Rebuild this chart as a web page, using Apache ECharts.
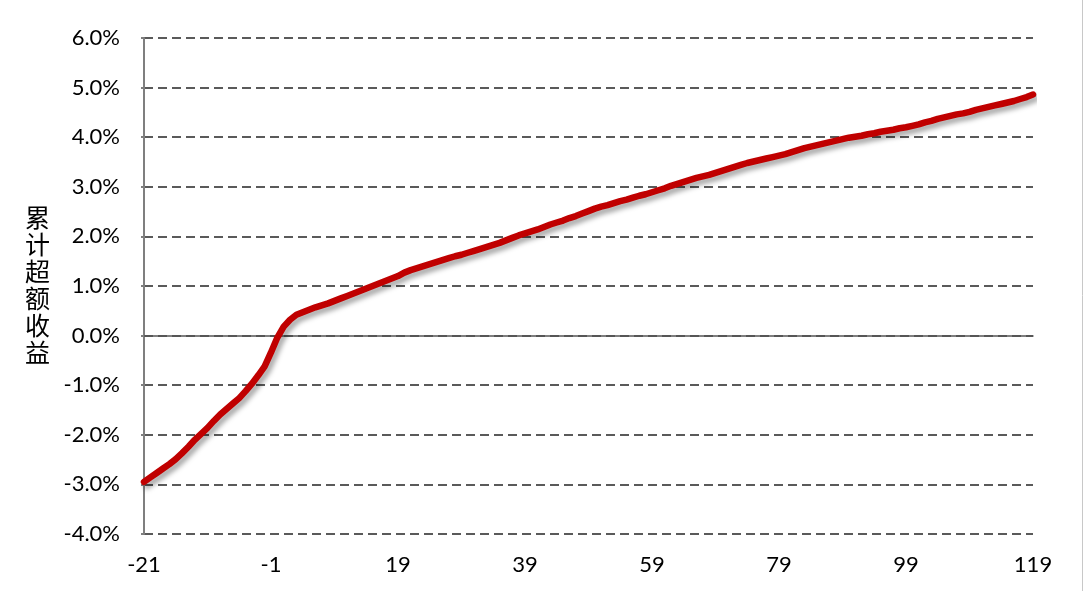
<!DOCTYPE html>
<html>
<head>
<meta charset="utf-8">
<script src="https://cdn.jsdelivr.net/npm/echarts@6/dist/echarts.min.js"></script>
<style>html,body{margin:0;padding:0;background:#fff}#c{width:1083px;height:591px}</style>
</head>
<body>
<div id="c"></div>
<script>
var startDay = -21;
var values = [
-2.95,-2.86,-2.77,-2.68,-2.59,-2.49,-2.37,-2.24,-2.10,-1.98,
-1.86,-1.72,-1.59,-1.48,-1.37,-1.26,-1.12,-0.97,-0.80,-0.62,
-0.34,-0.04,0.18,0.32,0.42,0.47,0.52,0.57,0.61,0.65,
0.70,0.75,0.80,0.85,0.90,0.95,1.00,1.05,1.10,1.15,
1.20,1.27,1.32,1.36,1.40,1.44,1.48,1.52,1.56,1.60,
1.63,1.67,1.71,1.75,1.79,1.83,1.87,1.92,1.97,2.02,
2.06,2.10,2.14,2.19,2.24,2.28,2.32,2.37,2.41,2.46,
2.51,2.56,2.60,2.63,2.67,2.71,2.74,2.78,2.82,2.85,
2.89,2.93,2.97,3.02,3.06,3.10,3.14,3.18,3.21,3.24,
3.28,3.32,3.36,3.40,3.44,3.48,3.51,3.54,3.57,3.60,
3.63,3.66,3.70,3.74,3.78,3.81,3.84,3.87,3.90,3.93,
3.96,3.99,4.01,4.03,4.06,4.08,4.11,4.13,4.15,4.18,
4.20,4.23,4.26,4.30,4.33,4.37,4.40,4.43,4.46,4.48,
4.51,4.55,4.58,4.61,4.64,4.67,4.70,4.73,4.77,4.81,
4.86
];
var categories = values.map(function(_, i){ return String(startDay + i); });
var yAxisTitle = '累计超额收益';

var chart = echarts.init(document.getElementById('c'));
chart.setOption({
  animation: false,
  grid: {left: 144, right: 50, top: 38, bottom: 57},
  xAxis: {
    type: 'category',
    data: categories,
    boundaryGap: false,
    axisLine: {show: true, onZero: true, lineStyle: {color: '#555', width: 1.5}},
    axisTick: {show: false},
    axisLabel: {interval: 19, color: '#000', fontSize: 22, fontFamily: 'Lato', margin: 20},
    splitLine: {show: false}
  },
  yAxis: {
    type: 'value',
    min: -4, max: 6, interval: 1,
    axisLine: {show: true, lineStyle: {color: '#7f7f7f', width: 2}},
    axisTick: {show: true, length: 3, lineStyle: {color: '#7f7f7f', width: 2}},
    axisLabel: {color: '#000', fontSize: 22, fontFamily: 'Lato', margin: 24,
      formatter: function(v){ return v.toFixed(1) + '%'; }},
    splitLine: {show: true, lineStyle: {color: '#5a5a5a', width: 2, type: [9, 5]}}
  },
  graphic: [
    {type: 'text', left: 25, top: 204,
     style: {text: yAxisTitle.split('').join('\n'), font: '25px "Noto Sans CJK SC"', fill: '#000', lineHeight: 27}},
    {type: 'line', shape: {x1: 1082.5, y1: 0, x2: 1082.5, y2: 591}, style: {stroke: '#c8c8c8', lineWidth: 1}}
  ],
  series: [{
    type: 'line',
    data: values,
    showSymbol: false,
    lineStyle: {color: '#C00000', width: 6.5, cap: 'round', join: 'round',
      shadowColor: 'rgba(0,0,0,0.35)', shadowBlur: 5, shadowOffsetX: 3, shadowOffsetY: 4},
    itemStyle: {color: '#C00000'},
    z: 5
  }]
});
</script>
</body>
</html>
